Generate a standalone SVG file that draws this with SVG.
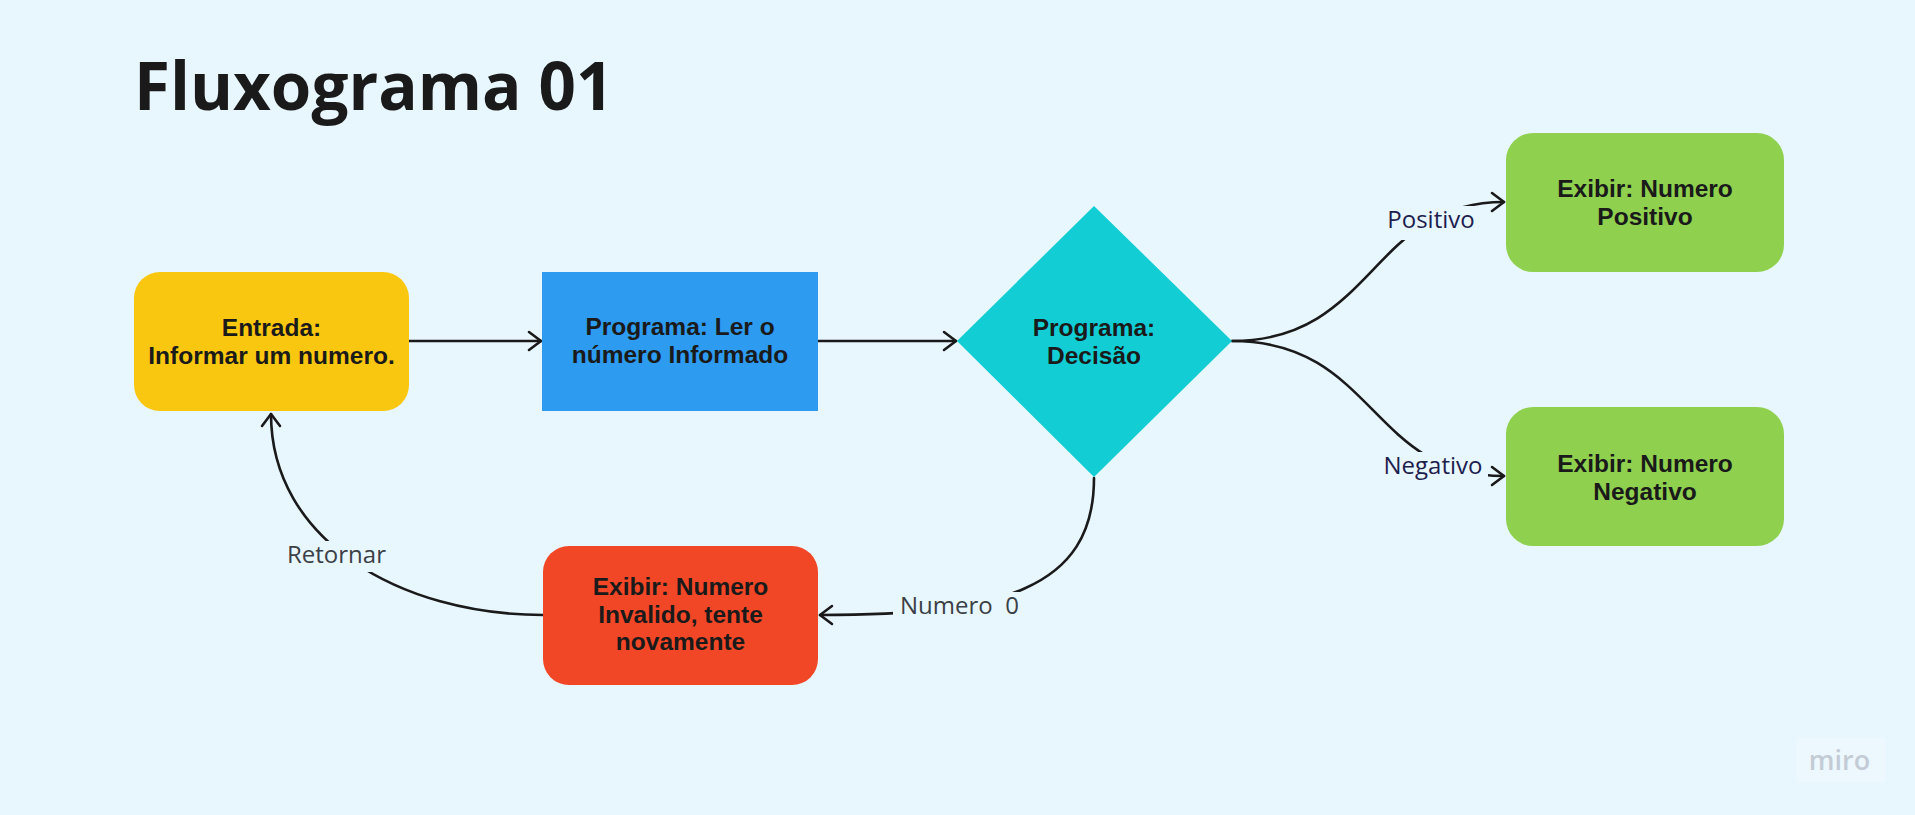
<svg xmlns="http://www.w3.org/2000/svg" width="1915" height="815" viewBox="0 0 1915 815">
  <style>
    .node-text { font-family: "Liberation Sans", Arial, sans-serif; font-weight: bold; font-size: 24.5px; fill: #1a1a1a; text-anchor: middle; }
    .conn { fill: none; stroke: #1a1a1a; stroke-width: 2.6; stroke-linecap: round; }
    .lbl { font-family: "Open Sans", "Noto Sans", sans-serif; font-size: 24px; text-anchor: middle; white-space: pre; }
    .lbl-navy { fill: #1e1e4e; }
    .lbl-gray { fill: #3b3f46; }
    .mask { fill: #e8f6fe; }
  </style>
  <defs>
    <marker id="arrow" viewBox="-15 -12 18 24" markerWidth="18" markerHeight="24" refX="0" refY="0" orient="auto" markerUnits="userSpaceOnUse">
      <path d="M -12 -9 L 0 0 L -12 9" fill="none" stroke="#1a1a1a" stroke-width="2.6" stroke-linecap="round" stroke-linejoin="round"/>
    </marker>
  </defs>

  <rect x="0" y="0" width="1915" height="815" fill="#e8f6fe"/>

  <text x="134" y="110" font-family="Open Sans, Noto Sans, sans-serif" font-weight="bold" font-size="65.5" fill="#1a1a1a">Fluxograma 01</text>

  <g id="connectors">
    <path class="conn" d="M 409 341 L 541 341" marker-end="url(#arrow)"/>
    <path class="conn" d="M 818 341 L 956 341" marker-end="url(#arrow)"/>
    <path class="conn" d="M 1232 341 C 1375 341 1370 202 1504 202" marker-end="url(#arrow)"/>
    <path class="conn" d="M 1232 341 C 1375 341 1370 476 1504 476" marker-end="url(#arrow)"/>
    <path class="conn" d="M 1094 478 C 1094 590 1000 615 820 615" marker-end="url(#arrow)"/>
    <path class="conn" d="M 543 615 C 400 615 271 540 271 414" marker-end="url(#arrow)"/>

    <rect class="mask" x="1382" y="206" width="96" height="34"/>
    <text class="lbl lbl-navy" x="1431" y="228">Positivo</text>
    <rect class="mask" x="1380" y="452" width="108" height="34"/>
    <text class="lbl lbl-navy" x="1433" y="474">Negativo</text>
    <rect class="mask" x="893" y="592" width="132" height="32"/>
    <text class="lbl lbl-gray" x="959.5" y="614">Numero  0</text>
    <rect class="mask" x="282" y="541" width="109" height="31"/>
    <text class="lbl lbl-gray" x="336.5" y="563">Retornar</text>
  </g>

  <g id="entrada">
    <rect x="134" y="272" width="275" height="139" rx="26" fill="#fac710"/>
    <text class="node-text" x="271.5" y="336">Entrada:</text>
    <text class="node-text" x="271.5" y="364">Informar um numero.</text>
  </g>

  <g id="ler">
    <rect x="542" y="272" width="276" height="139" fill="#2d9bf0"/>
    <text class="node-text" x="680" y="335">Programa: Ler o</text>
    <text class="node-text" x="680" y="363">número Informado</text>
  </g>

  <g id="decisao">
    <polygon points="1094,206 1232,341 1094,477 957,341" fill="#12cdd4"/>
    <text class="node-text" x="1094" y="336">Programa:</text>
    <text class="node-text" x="1094" y="364">Decisão</text>
  </g>

  <g id="positivo">
    <rect x="1506" y="133" width="278" height="139" rx="27" fill="#8fd14f"/>
    <text class="node-text" x="1645" y="197">Exibir: Numero</text>
    <text class="node-text" x="1645" y="225">Positivo</text>
  </g>

  <g id="negativo">
    <rect x="1506" y="407" width="278" height="139" rx="27" fill="#8fd14f"/>
    <text class="node-text" x="1645" y="472">Exibir: Numero</text>
    <text class="node-text" x="1645" y="500">Negativo</text>
  </g>

  <g id="invalido">
    <rect x="543" y="546" width="275" height="139" rx="26" fill="#f24726"/>
    <text class="node-text" x="680.5" y="595">Exibir: Numero</text>
    <text class="node-text" x="680.5" y="623">Invalido, tente</text>
    <text class="node-text" x="680.5" y="650">novamente</text>
  </g>

  <rect x="1796" y="737" width="90" height="46" rx="4" fill="#edf8fe"/>
  <text x="1839.5" y="770" font-family="Open Sans, Noto Sans, sans-serif" font-weight="600" font-size="27" fill="#c3cbd5" text-anchor="middle">miro</text>
</svg>
